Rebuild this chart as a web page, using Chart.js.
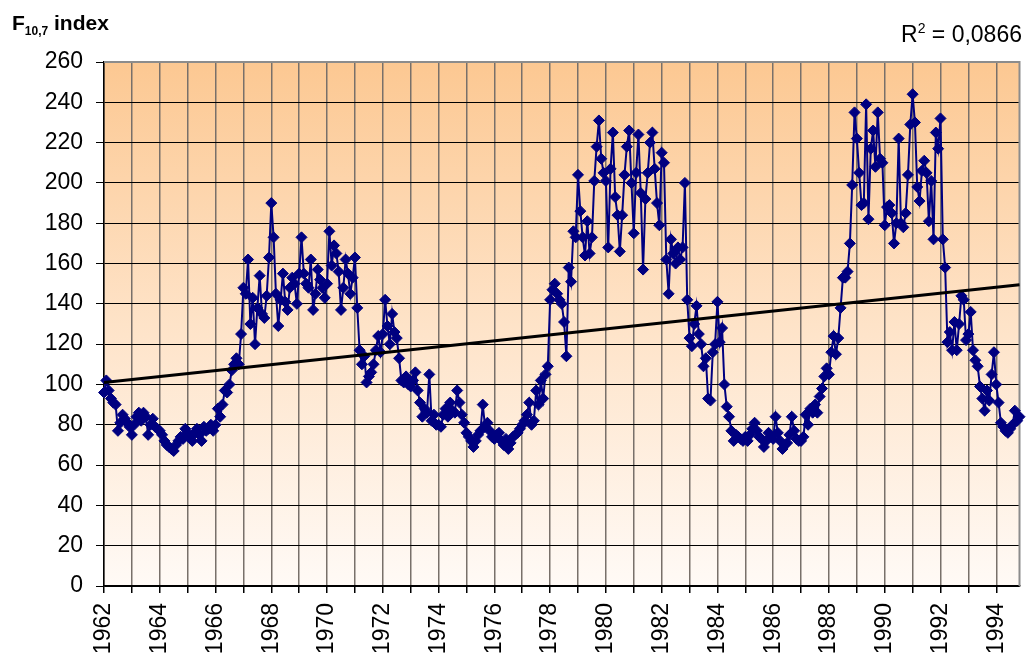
<!DOCTYPE html>
<html>
<head>
<meta charset="utf-8">
<script src="https://cdn.jsdelivr.net/npm/chart.js@4.4.1/dist/chart.umd.min.js"></script>
<style>
  body { margin: 0; background: #fff; }
  #wrap { position: relative; width: 1026px; height: 661px; }
  #title { position: absolute; left: 12px; top: 11px; font: bold 21px 'Liberation Sans', Arial, sans-serif; color: #000; white-space: nowrap; }
  #title sub { font-size: 12px; vertical-align: -5px; line-height: 0; }
  #r2 { position: absolute; right: 4px; top: 21px; font: 23px 'Liberation Sans', Arial, sans-serif; color: #000; white-space: nowrap; }
  #r2 sup { font-size: 14px; vertical-align: 9px; line-height: 0; }
</style>
</head>
<body>
<div id="wrap">
  <canvas id="chart" width="1026" height="661"></canvas>
  <div id="title">F<sub>10,7</sub> index</div>
  <div id="r2">R<sup>2</sup> = 0,0866</div>
</div>
<script>
// monthly F10.7 values, one array per year
const y1962 = [96, 102, 97, 93, 91, 90, 77, 81, 85, 83, 81, 79];
const y1963 = [75, 80, 84, 86, 82, 86, 84, 75, 80, 83, 79, 78];
const y1964 = [77, 75, 72, 70, 69, 68, 67, 70, 72, 74, 73, 78];
const y1965 = [76, 74, 72, 76, 78, 75, 72, 79, 77, 78, 80, 77];
const y1966 = [80, 88, 84, 90, 97, 96, 100, 107, 110, 113, 110, 125];
const y1967 = [148, 145, 162, 130, 143, 120, 138, 154, 135, 133, 144, 163];
const y1968 = [190, 173, 145, 129, 142, 155, 141, 137, 148, 153, 150, 140];
const y1969 = [155, 173, 155, 150, 148, 162, 137, 145, 157, 152, 148, 143];
const y1970 = [150, 176, 159, 169, 165, 156, 137, 148, 162, 155, 145, 153];
const y1971 = [163, 138, 117, 110, 114, 101, 104, 106, 110, 117, 124, 116];
const y1972 = [125, 142, 129, 120, 135, 126, 123, 113, 102, 101, 104, 100];
const y1973 = [99, 102, 106, 97, 91, 84, 88, 86, 105, 82, 85, 80];
const y1974 = [80, 79, 85, 88, 84, 91, 87, 86, 97, 91, 85, 81];
const y1975 = [76, 74, 72, 69, 72, 75, 77, 90, 79, 81, 77, 74];
const y1976 = [73, 75, 76, 72, 70, 73, 68, 71, 74, 75, 76, 78];
const y1977 = [80, 82, 85, 91, 80, 82, 97, 90, 102, 93, 105, 109];
const y1978 = [142, 147, 150, 145, 142, 140, 131, 114, 158, 151, 176, 173];
const y1979 = [204, 186, 173, 164, 181, 165, 173, 201, 218, 231, 212, 205];
const y1980 = [201, 168, 207, 225, 193, 184, 166, 184, 204, 218, 226, 200];
const y1981 = [175, 205, 224, 195, 157, 192, 205, 220, 225, 207, 190, 179];
const y1982 = [215, 210, 162, 145, 172, 165, 160, 168, 162, 168, 200, 142];
const y1983 = [123, 119, 130, 139, 125, 120, 109, 113, 93, 92, 116, 120];
const y1984 = [141, 121, 128, 100, 89, 84, 77, 72, 75, 74, 73, 72];
const y1985 = [74, 72, 75, 78, 81, 77, 74, 73, 69, 72, 76, 74];
const y1986 = [73, 84, 76, 72, 68, 70, 71, 75, 84, 77, 73, 72];
const y1987 = [72, 74, 85, 80, 88, 86, 90, 86, 94, 98, 104, 108];
const y1988 = [105, 116, 124, 115, 123, 138, 153, 153, 156, 170, 199, 235];
const y1989 = [222, 205, 189, 190, 239, 182, 217, 226, 208, 235, 212, 210];
const y1990 = [179, 188, 189, 185, 170, 180, 222, 180, 178, 185, 204, 229];
const y1991 = [244, 230, 198, 191, 206, 211, 205, 181, 201, 172, 225, 217];
const y1992 = [232, 172, 158, 121, 126, 117, 131, 117, 130, 144, 142, 122];
const y1993 = [125, 136, 117, 112, 109, 99, 93, 87, 97, 92, 105, 116];
const y1994 = [100, 91, 81, 79, 77, 76, 78, 80, 87, 82, 84];

const years = [1962, 1963, 1964, 1965, 1966, 1967, 1968, 1969, 1970, 1971, 1972,
    1973, 1974, 1975, 1976, 1977, 1978, 1979, 1980, 1981, 1982, 1983, 1984,
    1985, 1986, 1987, 1988, 1989, 1990, 1991, 1992, 1993, 1994];
const yearValues = [y1962, y1963, y1964, y1965, y1966, y1967, y1968, y1969, y1970,
    y1971, y1972, y1973, y1974, y1975, y1976, y1977, y1978, y1979, y1980, y1981,
    y1982, y1983, y1984, y1985, y1986, y1987, y1988, y1989, y1990, y1991, y1992,
    y1993, y1994];

// linear trend line ends, as drawn in the picture
const trendStart = 101;
const trendEnd = 149.5;

const yTicks = { min: 0, max: 260, step: 20 };

const labels = [];
const values = [];
years.forEach((yr, k) => {
    yearValues[k].forEach((v, m) => {
        labels.push(yr + '-' + String(m + 1).padStart(2, '0'));
        values.push(v);
    });
});

const FONT = "'Liberation Sans', Arial, sans-serif";
const isYearStart = i => labels[i] && labels[i].endsWith('-01');

// gradient fill and grey frame of the plot area
const plotBackground = {
    id: 'plotBackground',
    beforeDraw(chart) {
        const { ctx, chartArea: a } = chart;
        const g = ctx.createLinearGradient(0, a.top, 0, a.bottom);
        g.addColorStop(0, '#fcc892');
        g.addColorStop(0.5, '#fee3c8');
        g.addColorStop(1, '#fffaf6');
        ctx.save();
        ctx.fillStyle = g;
        ctx.fillRect(a.left, a.top, a.right - a.left, a.bottom - a.top);
        ctx.restore();
    },
    beforeDatasetsDraw(chart) {
        const { ctx, chartArea: a } = chart;
        ctx.save();
        ctx.strokeStyle = '#8c8c8c';
        ctx.lineWidth = 2;
        ctx.beginPath();
        ctx.moveTo(a.left, a.top);
        ctx.lineTo(a.right, a.top);
        ctx.lineTo(a.right, a.bottom);
        ctx.stroke();
        ctx.restore();
    }
};

new Chart(document.getElementById('chart').getContext('2d'), {
    type: 'line',
    data: {
        labels: labels,
        datasets: [
            {
                label: 'Trend',
                data: [{ x: labels[0], y: trendStart }, { x: labels[labels.length - 1], y: trendEnd }],
                borderColor: '#000',
                borderWidth: 3,
                pointRadius: 0,
                order: 0
            },
            {
                label: 'F10,7',
                data: values,
                borderColor: '#000080',
                borderWidth: 2,
                pointStyle: 'rectRot',
                pointRadius: 5.5,
                pointBackgroundColor: '#000080',
                pointBorderColor: '#000080',
                pointBorderWidth: 1,
                order: 1
            }
        ]
    },
    options: {
        responsive: false,
        animation: false,
        events: [],
        layout: { padding: { left: 0, right: 2, top: 62, bottom: 0 } },
        plugins: { legend: { display: false }, tooltip: { enabled: false } },
        scales: {
            x: {
                type: 'category',
                offset: false,
                grid: {
                    offset: false,
                    color: c => isYearStart(c.index) ? '#78706a' : 'transparent',
                    lineWidth: c => isYearStart(c.index) ? 1.5 : 0,
                    tickColor: c => isYearStart(c.index) ? '#000' : 'transparent',
                    tickLength: 7
                },
                border: { color: '#000', width: 1.5 },
                ticks: {
                    autoSkip: false,
                    minRotation: 90,
                    maxRotation: 90,
                    padding: 10,
                    color: '#000',
                    font: { family: FONT, size: 23 },
                    callback: (value, index) => {
                        const lab = labels[index];
                        const yr = +lab.slice(0, 4);
                        return lab.endsWith('-01') && yr % 2 === 0 ? String(yr) : '';
                    }
                },
                afterFit: s => {
                    s.height = 75;
                    s.paddingLeft = 0;
                    s.paddingRight = 0;
                }
            },
            y: {
                min: yTicks.min,
                max: yTicks.max,
                grid: { color: '#000', lineWidth: 1, tickLength: 8 },
                border: { color: '#000', width: 1.5 },
                ticks: {
                    stepSize: yTicks.step,
                    padding: 13,
                    color: '#000',
                    font: { family: FONT, size: 23 }
                },
                afterFit: s => { s.width = 104; }
            }
        }
    },
    plugins: [plotBackground]
});
</script>
</body>
</html>
